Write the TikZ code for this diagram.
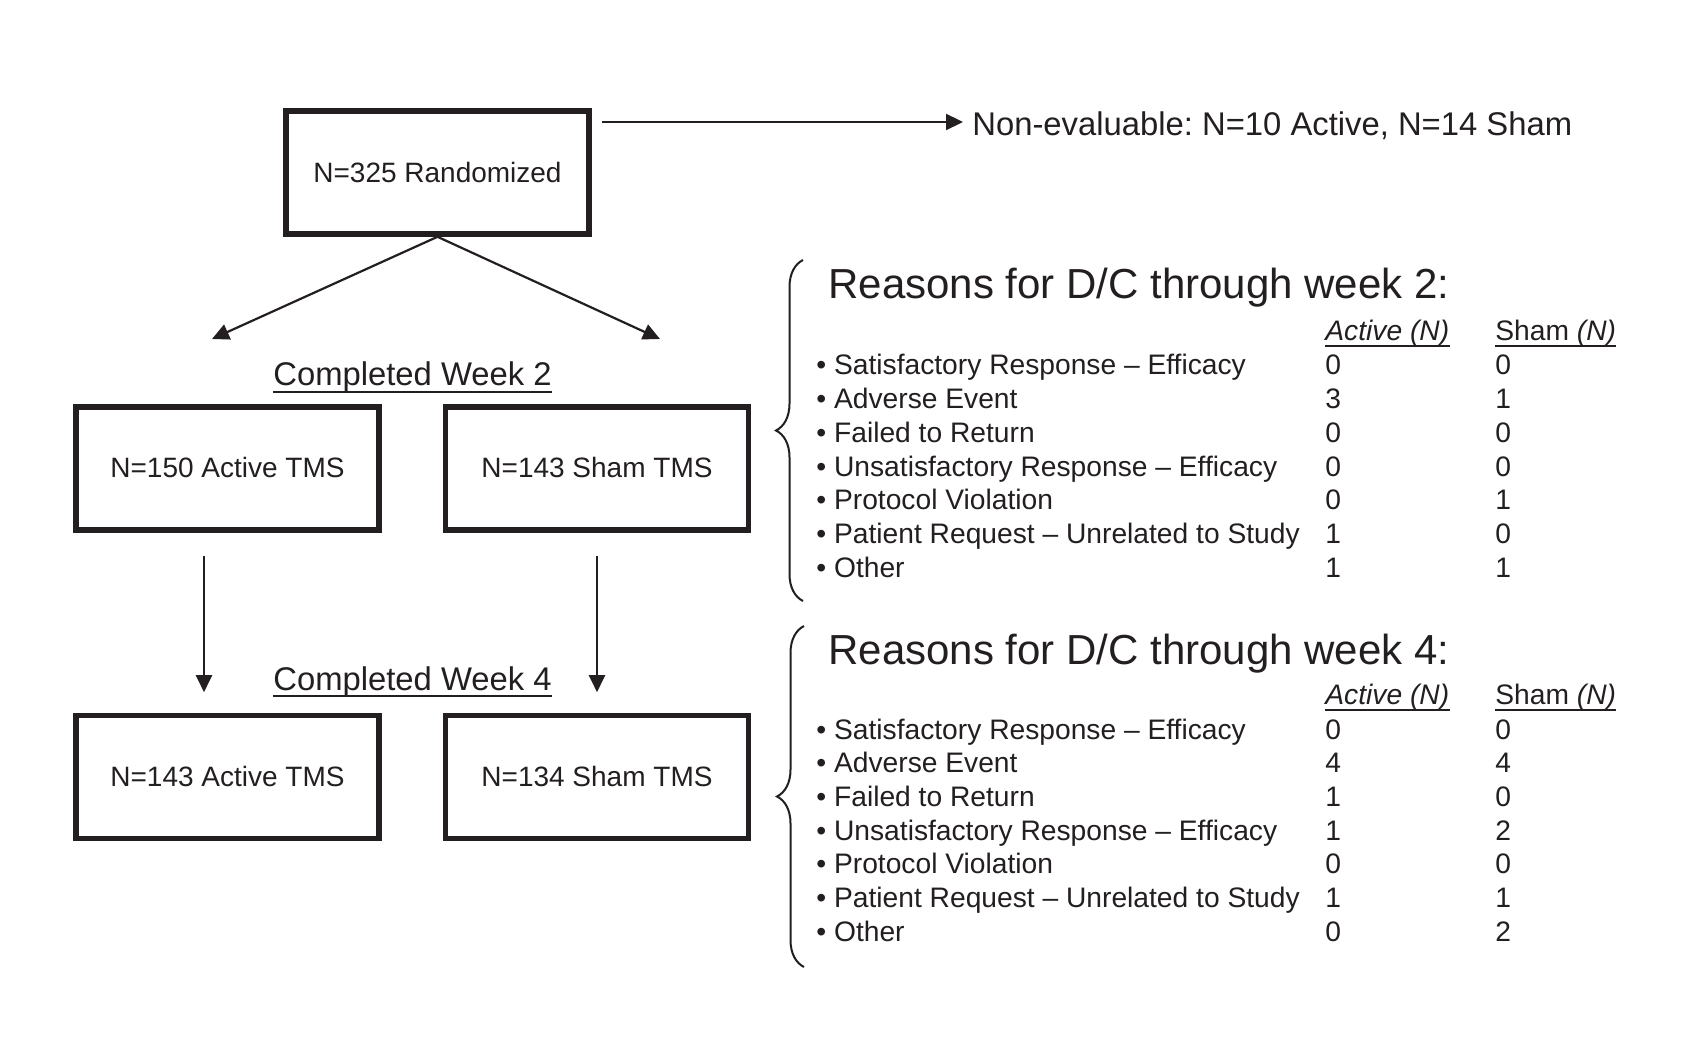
\documentclass[tikz,border=0pt]{standalone}
\usepackage{fontspec}
\setmainfont{Liberation Sans}
\usetikzlibrary{arrows.meta,decorations.pathreplacing}
\definecolor{ink}{RGB}{35,31,32}
\frenchspacing
\begin{document}
\begin{tikzpicture}[x=0.5pt,y=-0.5pt,color=ink,
  box/.style={draw, line width=2.8pt, minimum width=151.5pt, minimum height=61.5pt, inner sep=0pt, font=\fontsize{14}{16}\selectfont},
  arr/.style={line width=1.1pt, -{Triangle[length=8.5pt,width=8pt]}},
  big/.style={font=\fontsize{16.4}{19}\selectfont, inner sep=0pt},
  head/.style={font=\fontsize{21}{25}\selectfont, inner sep=0pt, anchor=base west},
  txt/.style={font=\fontsize{14.1}{16}\selectfont, inner sep=0pt, anchor=base west},
  uline/.style={line width=1pt},
  brc/.style={line width=1pt, decorate, decoration={brace, amplitude=13.5pt}}
]
\useasboundingbox[fill=white] (0,0) rectangle (1684,1058);
% boxes
\node[box] (rand) at (437.5,172.5) {N=325 Randomized};
\node[box] (w2a) at (227.5,468.5) {\raisebox{1pt}{N=150 Active TMS}};
\node[box] (w2b) at (597,468.5) {\raisebox{1pt}{N=143 Sham TMS}};
\node[box] (w4a) at (227.5,777) {\raisebox{1pt}{N=143 Active TMS}};
\node[box] (w4b) at (597,777) {\raisebox{1pt}{N=134 Sham TMS}};
% non-evaluable
\coordinate (ne) at (602,122);
\node[big, anchor=base west, inner xsep=4.5pt] (nonev) at (963,136) {Non-evaluable: N=10 Active, N=14 Sham};
\draw[arr] (ne) -- (ne -| nonev.west);
% split arrows
\coordinate (ta) at (212,339);
\coordinate (tb) at (660,339);
\draw[arr] (rand.south) -- (ta);
\draw[arr] (rand.south) -- (tb);
% completed labels
\node[big, anchor=base] (cw2) at (412.5,386) {Completed Week 2};
\draw[uline] ([yshift=-3pt]cw2.base west) -- ([yshift=-3pt]cw2.base east);
\node[big, anchor=base] (cw4) at (412.5,690) {Completed Week 4};
\draw[uline] ([yshift=-3pt]cw4.base west) -- ([yshift=-3pt]cw4.base east);
% down arrows
\draw[arr] ([xshift=-11.75pt,yshift=-11.5pt]w2a.south) -- ([xshift=-11.75pt,yshift=10.25pt]w4a.north);
\draw[arr] ([yshift=-11.5pt]w2b.south) -- ([yshift=10.25pt]w4b.north);
% braces
\draw[brc] (803,601) -- (803,260);
\draw[brc] (804,967) -- (804,626);
% block 1
\node[head] (h1) at (828,299) {Reasons for D/C through week 2:};
\node[txt] (ca1) at (1325,341) {\itshape Active (N)};
\node[txt] (cs1) at (1495,341) {Sham \itshape(N)};
\draw[uline] ([yshift=-2.5pt]ca1.base west) -- ([yshift=-2.5pt]ca1.base east);
\draw[uline] ([yshift=-2.5pt]cs1.base west) -- ([yshift=-2.5pt]cs1.base east);
\foreach \t/\a/\s [count=\i from 0] in {Satisfactory Response – Efficacy/0/0, Adverse Event/3/1, Failed to Return/0/0, Unsatisfactory Response – Efficacy/0/0, Protocol Violation/0/1, Patient Request – Unrelated to Study/1/0, Other/1/1}{
  \node[txt] (ra\i) at (816,375+33.67*\i) {• \t};
  \node[txt] (raa\i) at (1325,375+33.67*\i) {\a};
  \node[txt] (ras\i) at (1495,375+33.67*\i) {\s};
}
% block 2
\node[head] (h2) at (828,664) {Reasons for D/C through week 4:};
\node[txt] (ca2) at (1325,704.5) {\itshape Active (N)};
\node[txt] (cs2) at (1495,704.5) {Sham \itshape(N)};
\draw[uline] ([yshift=-2.5pt]ca2.base west) -- ([yshift=-2.5pt]ca2.base east);
\draw[uline] ([yshift=-2.5pt]cs2.base west) -- ([yshift=-2.5pt]cs2.base east);
\foreach \t/\a/\s [count=\i from 0] in {Satisfactory Response – Efficacy/0/0, Adverse Event/4/4, Failed to Return/1/0, Unsatisfactory Response – Efficacy/1/2, Protocol Violation/0/0, Patient Request – Unrelated to Study/1/1, Other/0/2}{
  \node[txt] (rb\i) at (816,739+33.67*\i) {• \t};
  \node[txt] (rba\i) at (1325,739+33.67*\i) {\a};
  \node[txt] (rbs\i) at (1495,739+33.67*\i) {\s};
}
\end{tikzpicture}
\end{document}
